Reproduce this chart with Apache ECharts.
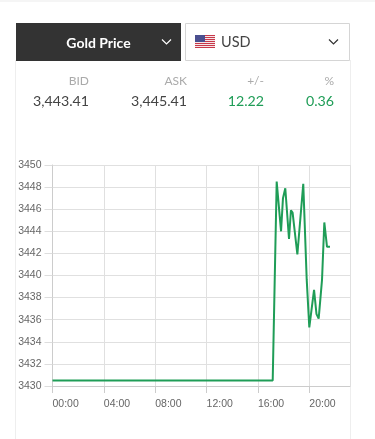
<!DOCTYPE html>
<html><head><meta charset="utf-8">
<style>html,body{margin:0;padding:0;background:#fff}#c{width:375px;height:439px}</style>
<script src="https://cdn.jsdelivr.net/npm/echarts@6/dist/echarts.min.js"></script>
</head><body><div id="c"></div>
<script>
const hours = [0,4,8,12,16,17.15,17.46,17.8,17.95,18.13,18.42,18.57,18.7,19.07,19.22,19.53,19.8,20,20.37,20.56,20.73,20.99,21.17,21.38,21.61];
const prices = [3430.5,3430.5,3430.5,3430.5,3430.5,3430.5,3448.5,3444,3447,3447.9,3443.3,3445.9,3445.7,3441.9,3441.9,3448.3,3439.6,3435.3,3438.7,3436.5,3436.1,3439.6,3444.8,3442.6,3442.6];
const yMin = 3430, yMax = 3450, yStep = 2;
const xMin = 0, xMax = 23.17, xStep = 4;
const headers = ['BID','ASK','+/-','%'];
const quotes = ['3,443.41','3,445.41','12.22','0.36'];
const title = 'Gold Price';
const currency = 'USD';

const FONT = 'Lato';
const green = '#1f9d57';
const colRight = [89,187,264,334];
const T = (x,y,text,size,fill,align,weight)=>({type:'text',x,y,silent:true,
  style:{text,fontFamily:FONT,fontSize:size,fill,align:align||'left',verticalAlign:'middle',fontWeight:weight||'normal'}});
const g = [];
g.push({type:'rect',shape:{x:0,y:0,width:375,height:2},style:{fill:'#f5f5f5'}});
g.push({type:'line',shape:{x1:15.5,y1:60,x2:15.5,y2:439},style:{stroke:'#eeeeee',lineWidth:1}});
g.push({type:'line',shape:{x1:350.5,y1:60,x2:350.5,y2:439},style:{stroke:'#eeeeee',lineWidth:1}});
g.push({type:'rect',shape:{x:16,y:23,width:165,height:38},style:{fill:'#333333'}});
g.push(T(98.5,43,title,14,'#ffffff','center','bold'));
g.push({type:'polyline',shape:{points:[[162,39.5],[166.5,44],[171,39.5]]},style:{stroke:'#fff',lineWidth:1.2,fill:null}});
g.push({type:'rect',shape:{x:185.5,y:23.5,width:164,height:37},style:{fill:'#fff',stroke:'#d5d5d5',lineWidth:1}});
for(let i=0;i<7;i++){g.push({type:'rect',shape:{x:195,y:35+i*2,width:20,height:1},style:{fill:'#c8384a'}});
  if(i<6)g.push({type:'rect',shape:{x:195,y:36+i*2,width:20,height:1},style:{fill:'#f4e6e8'}});}
g.push({type:'rect',shape:{x:195,y:35,width:10,height:7},style:{fill:'#4a4f8f'}});
g.push(T(221,42,currency,14.5,'#444444'));
g.push({type:'polyline',shape:{points:[[329,39.5],[333.5,44],[338,39.5]]},style:{stroke:'#333',lineWidth:1.2,fill:null}});
headers.forEach((h,i)=>g.push(T(colRight[i],81,h,12,'#aaaaaa','right')));
quotes.forEach((q,i)=>g.push(T(colRight[i],101.5,q,14.2,i<2?'#444444':green,'right')));

const chart = echarts.init(document.getElementById('c'),null,{renderer:'canvas'});
const gl = {lineStyle:{color:'#e0e0e0',width:1}};
chart.setOption({
  animation:false,
  grid:{left:52.5,right:25,top:165,bottom:53,containLabel:false},
  xAxis:{type:'value',min:xMin,max:xMax,interval:xStep,
    axisLine:{show:true,onZero:false,lineStyle:{color:'#cccccc'}},
    axisTick:{show:true,length:7,lineStyle:{color:'#cccccc'}},
    splitLine:{show:true,...gl},
    axisLabel:{show:true,align:'left',color:'#666666',fontSize:10.5,fontFamily:'Liberation Sans',margin:13,
      showMinLabel:true,showMaxLabel:false,
      formatter:v=>v%xStep===0?String(v).padStart(2,'0')+':00':''}},
  yAxis:{type:'value',min:yMin,max:yMax,interval:yStep,
    axisLine:{show:true,onZero:false,lineStyle:{color:'#cccccc'}},
    axisTick:{show:true,length:8,lineStyle:{color:'#dddddd'}},
    splitLine:{show:true,...gl},
    axisLabel:{color:'#666666',fontSize:10.5,fontFamily:'Liberation Sans',margin:11,formatter:v=>String(v)}},
  series:[{type:'line',data:hours.map((h,i)=>[h,prices[i]]),showSymbol:false,symbol:'none',
    lineStyle:{color:green,width:2},itemStyle:{color:green}}],
  graphic:g
});
</script></body></html>
